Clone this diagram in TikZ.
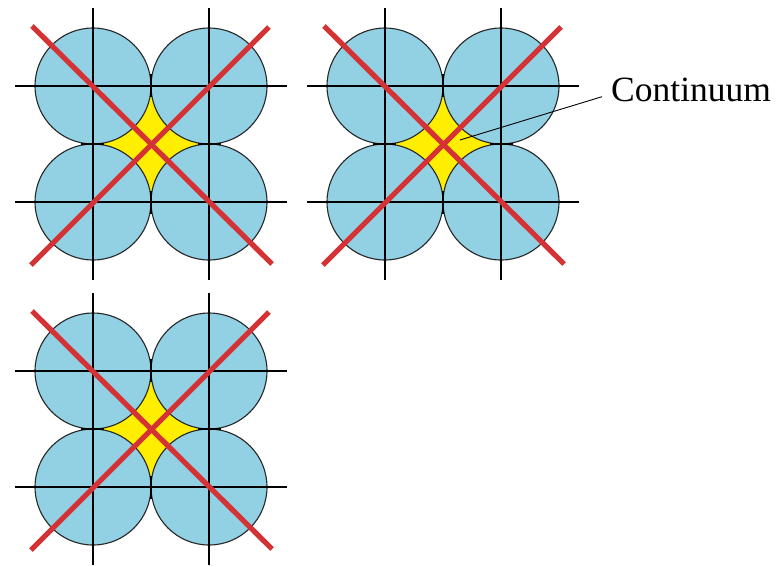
\documentclass[tikz,border=0pt]{standalone}
\usepackage{fontspec}
\setmainfont{Liberation Serif}
\definecolor{grainblue}{RGB}{146,208,228}
\definecolor{poreyellow}{RGB}{255,238,0}
\definecolor{crossred}{RGB}{212,50,52}
\tikzset{
  grain/.style={fill=grainblue, draw=black!85, line width=1.1pt},
  pore/.style={fill=poreyellow},
  gridline/.style={draw=black, line width=1.7pt},
  crossline/.style={draw=crossred, line width=5.2pt},
  contact/.style={draw=black, line width=2.4pt},
  leader/.style={draw=black, line width=0.9pt},
  textlabel/.style={font=\fontsize{35.5}{36}\selectfont, inner sep=0pt, anchor=base west}
}
\begin{document}
\begin{tikzpicture}[x=1pt,y=-1pt]
\useasboundingbox (0,0) rectangle (776,566);
\foreach \cx/\cy in {151/144, 443/144, 151/429}{
  \begin{scope}[shift={(\cx,\cy)}]
    \fill[pore] (-58,-58) rectangle (58,58);
    \foreach \sx/\sy in {-1/-1,1/-1,-1/1,1/1}
      \draw[grain] (58*\sx,58*\sy) circle[radius=58];
    \draw[contact] (0,-70) -- (0,-47);
    \draw[contact] (0,47) -- (0,70);
    \draw[contact] (-70,0) -- (-47,0);
    \draw[contact] (47,0) -- (70,0);
    \draw[gridline] (-58,-136) -- (-58,136);
    \draw[gridline] (58,-136) -- (58,136);
    \draw[gridline] (-136,-58) -- (136,-58);
    \draw[gridline] (-136,58) -- (136,58);
    \draw[crossline] (-119,-118) -- (121,120);
    \draw[crossline] (118,-117) -- (-120,121);
  \end{scope}
}
\node[textlabel] (cont) at (611,101.7) {Continuum};
\coordinate (tip) at (460,140);
\draw[leader] ([shift={(-9,-5)}]cont.base west) -- (tip);
\end{tikzpicture}
\end{document}
